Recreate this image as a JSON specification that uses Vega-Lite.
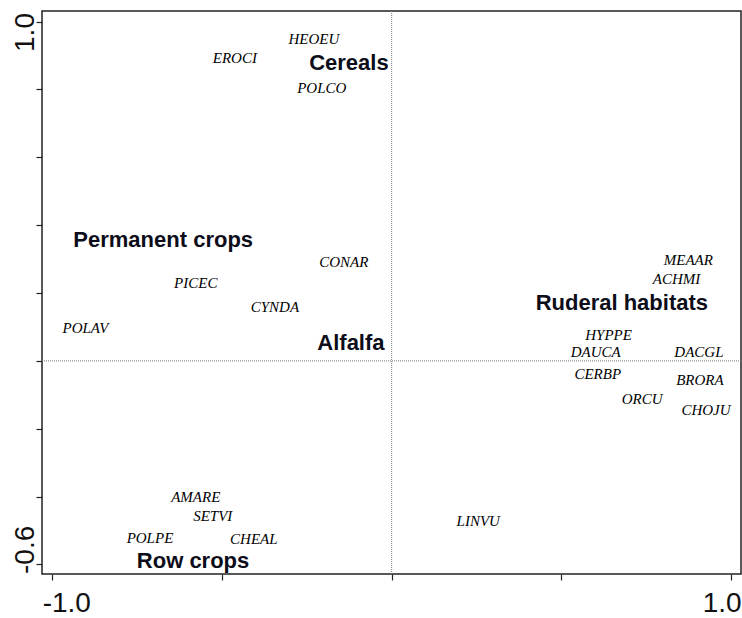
{
  "$schema": "https://vega.github.io/schema/vega-lite/v6.json",
  "width": 699,
  "height": 563,
  "autosize": {"type": "none"},
  "padding": {"left": 42, "top": 11, "right": 1, "bottom": 44},
  "background": "white",
  "config": {"view": {"stroke": "#222", "strokeWidth": 1.5}},
  "datasets": {
    "zero": [{"x": 0, "y": 0}],
    "labels": [
      {"label": "HEOEU", "x": -0.229, "y": 0.949, "kind": "species"},
      {"label": "EROCI", "x": -0.462, "y": 0.893, "kind": "species"},
      {"label": "POLCO", "x": -0.206, "y": 0.804, "kind": "species"},
      {"label": "CONAR", "x": -0.141, "y": 0.292, "kind": "species"},
      {"label": "PICEC", "x": -0.577, "y": 0.230, "kind": "species"},
      {"label": "CYNDA", "x": -0.344, "y": 0.159, "kind": "species"},
      {"label": "POLAV", "x": -0.902, "y": 0.097, "kind": "species"},
      {"label": "MEAAR", "x": 0.874, "y": 0.298, "kind": "species"},
      {"label": "ACHMI", "x": 0.839, "y": 0.242, "kind": "species"},
      {"label": "HYPPE", "x": 0.639, "y": 0.077, "kind": "species"},
      {"label": "DAUCA", "x": 0.601, "y": 0.027, "kind": "species"},
      {"label": "DACGL", "x": 0.905, "y": 0.027, "kind": "species"},
      {"label": "CERBP", "x": 0.607, "y": -0.038, "kind": "species"},
      {"label": "BRORA", "x": 0.908, "y": -0.056, "kind": "species"},
      {"label": "ORCU", "x": 0.738, "y": -0.112, "kind": "species"},
      {"label": "CHOJU", "x": 0.926, "y": -0.144, "kind": "species"},
      {"label": "AMARE", "x": -0.577, "y": -0.401, "kind": "species"},
      {"label": "SETVI", "x": -0.527, "y": -0.457, "kind": "species"},
      {"label": "POLPE", "x": -0.712, "y": -0.521, "kind": "species"},
      {"label": "CHEAL", "x": -0.406, "y": -0.524, "kind": "species"},
      {"label": "LINVU", "x": 0.255, "y": -0.471, "kind": "species"},
      {"label": "Cereals", "x": -0.126, "y": 0.878, "kind": "group"},
      {"label": "Permanent crops", "x": -0.673, "y": 0.357, "kind": "group"},
      {"label": "Alfalfa", "x": -0.120, "y": 0.053, "kind": "group"},
      {"label": "Ruderal habitats", "x": 0.678, "y": 0.171, "kind": "group"},
      {"label": "Row crops", "x": -0.585, "y": -0.589, "kind": "group"}
    ]
  },
  "layer": [
    {
      "data": {"name": "zero"},
      "mark": {"type": "rule", "color": "#777", "strokeWidth": 1, "strokeDash": [1, 1]},
      "encoding": {
        "x": {"field": "x", "type": "quantitative", "scale": {"domain": [-1.030, 1.029], "nice": false, "zero": false},
          "axis": {"values": [-1, -0.5, 0, 0.5, 1], "labelExpr": "datum.value == -1 ? '-1.0' : datum.value == 1 ? '1.0' : ''", "title": null, "grid": false, "domain": false, "tickSize": 6, "tickColor": "#222", "tickWidth": 1.2, "labelFont": "Liberation Sans", "labelFontSize": 28, "labelColor": "#111", "labelPadding": 9, "labelFlush": 15, "labelFlushOffset": 10, "labelOverlap": false, "labelBound": false}}
      }
    },
    {
      "data": {"name": "zero"},
      "mark": {"type": "rule", "color": "#777", "strokeWidth": 1, "strokeDash": [1, 1]},
      "encoding": {
        "y": {"field": "y", "type": "quantitative", "scale": {"domain": [-0.628, 1.031], "nice": false, "zero": false},
          "axis": {"values": [-0.6, -0.4, -0.2, 0, 0.2, 0.4, 0.6, 0.8, 1], "labelExpr": "datum.value == 1 ? '1.0' : datum.value == -0.6 ? '-0.6' : ''", "title": null, "grid": false, "domain": false, "tickSize": 6, "tickColor": "#222", "tickWidth": 1.2, "labelFont": "Liberation Sans", "labelFontSize": 28, "labelColor": "#111", "labelAngle": -90, "labelAlign": {"condition": {"test": "datum.value == 1", "value": "right"}, "value": "left"}, "labelBaseline": "alphabetic", "labelPadding": 3, "labelOffset": {"condition": {"test": "datum.value == 1", "value": -9}, "value": 9}, "labelOverlap": false, "labelBound": false}}
      }
    },
    {
      "data": {"name": "labels"},
      "transform": [{"filter": "datum.kind == 'species'"}],
      "mark": {"type": "text", "font": "Liberation Serif", "fontStyle": "italic", "fontSize": 15, "color": "#000", "align": "center", "baseline": "middle"},
      "encoding": {
        "x": {"field": "x", "type": "quantitative"},
        "y": {"field": "y", "type": "quantitative"},
        "text": {"field": "label"}
      }
    },
    {
      "data": {"name": "labels"},
      "transform": [{"filter": "datum.kind == 'group'"}],
      "mark": {"type": "text", "font": "Liberation Sans", "fontWeight": "bold", "fontSize": 22, "color": "#0d0d1a", "align": "center", "baseline": "middle"},
      "encoding": {
        "x": {"field": "x", "type": "quantitative"},
        "y": {"field": "y", "type": "quantitative"},
        "text": {"field": "label"}
      }
    }
  ]
}
